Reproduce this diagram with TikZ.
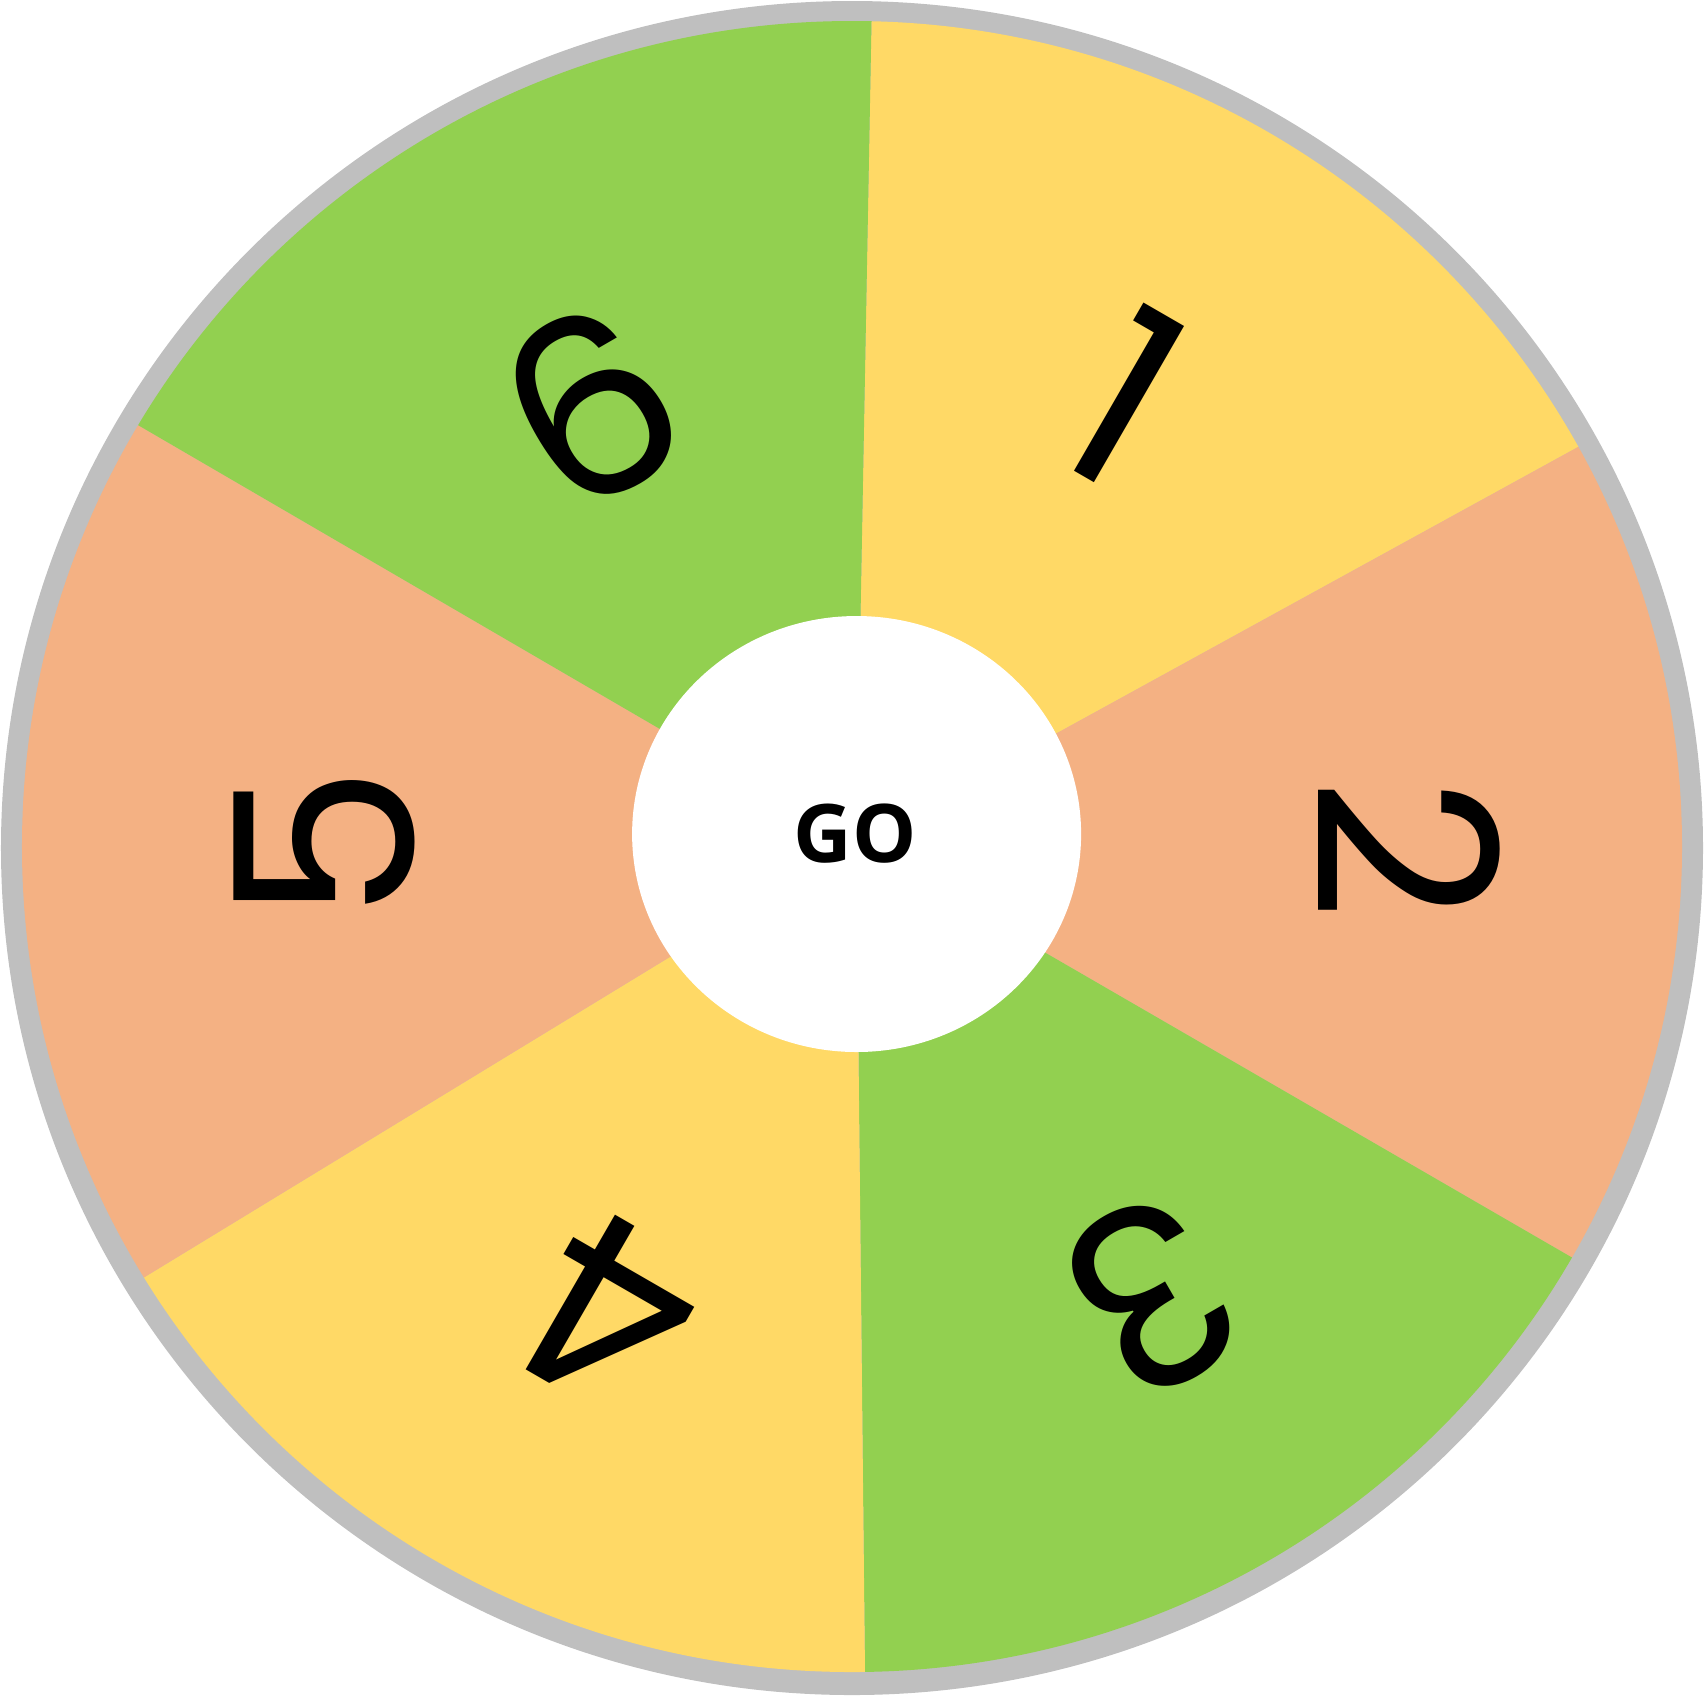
\documentclass[tikz,border=0pt]{standalone}
\usepackage{fontspec}
\newfontfamily\numfont{Poppins}
\newfontfamily\gofont{Open Sans}
\definecolor{wheelgreen}{HTML}{92D050}
\definecolor{wheelyellow}{HTML}{FFD966}
\definecolor{wheelsalmon}{HTML}{F4B183}
\definecolor{wheelrim}{HTML}{BFBFBF}
\begin{document}
\begin{tikzpicture}[
  number/.style={inner sep=0pt,transform shape,font=\numfont\fontsize{71}{71}\selectfont},
  go label/.style={inner sep=0pt,font=\gofont\bfseries\fontsize{23}{23}\selectfont}
]
  \useasboundingbox (-8.52,-8.48) rectangle (8.52,8.48);

  % rim and sectors
  \fill[wheelrim] (0,0) ellipse (8.51 and 8.47);
  \coordinate (hubc) at (0.043,0.047);
  \begin{scope}
    \clip (0,0.015) ellipse (8.30 and 8.255);
    \foreach \a/\b/\c in {88.94/28.77/wheelyellow, 28.77/-30.06/wheelsalmon,
        -30.06/-89.4/wheelgreen, -89.4/-148.64/wheelyellow,
        211.36/149.79/wheelsalmon, 149.79/88.94/wheelgreen}
      \fill[\c] (hubc) -- +(\a:14) -- +({(\a+\b)/2}:14) -- +(\b:14) -- cycle;
  \end{scope}

  % hub
  \fill[white] (0.046,0.14) ellipse (2.245 and 2.18);
  \node[go label] (go) at (0.03,0.14) {GO};

  % numbers, turned to face outwards
  \foreach \x/\y/\r/\lbl in {2.73/4.52/-30/1, 5.56/-0.01/-90/2, 3.00/-4.48/-150/3,
      -2.41/-4.68/150/4, -5.28/0.04/90/5, -2.62/4.42/30/6}
    \node[number,rotate=\r] (n\lbl) at (\x,\y) {\lbl};
\end{tikzpicture}
\end{document}
